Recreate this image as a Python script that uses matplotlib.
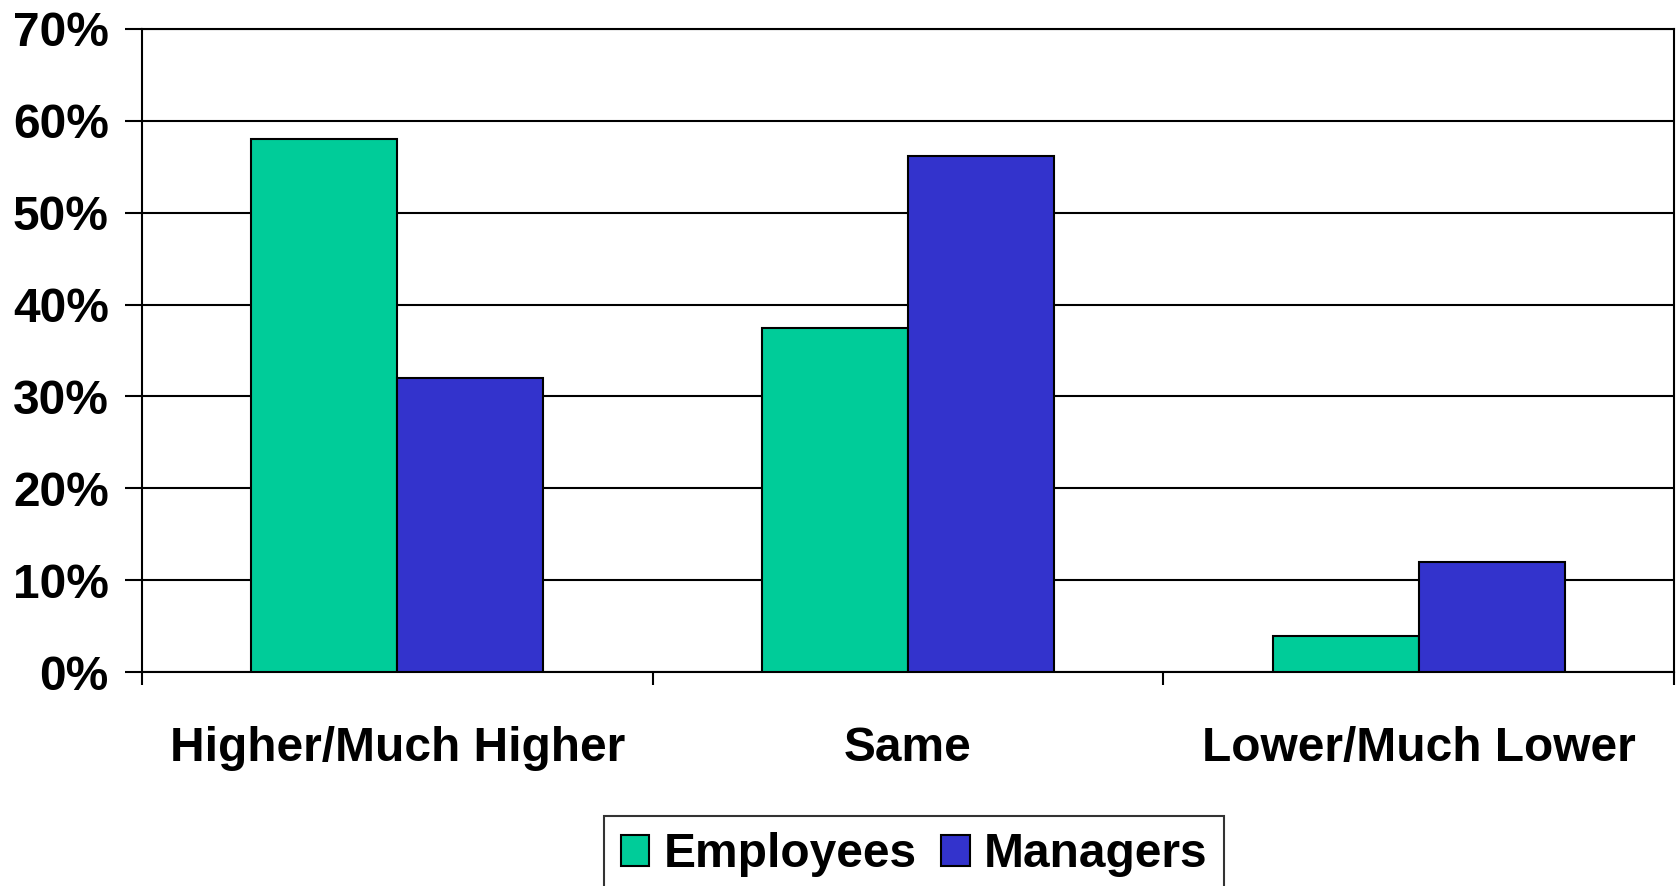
#Grouped bar chart: Employees vs Managers
import matplotlib.pyplot as plt
import numpy as np

plt.rcParams['font.family'] = ['Liberation Sans', 'DejaVu Sans']
plt.rcParams['font.weight'] = 'bold'

#Data
categories = ['Higher/Much Higher', 'Same', 'Lower/Much Lower']
employees = [58.0, 37.4, 3.9]
managers = [32.0, 56.2, 12.0]
series_names = ['Employees', 'Managers']
yticks = [0, 10, 20, 30, 40, 50, 60, 70]

green = '#00CC99'
blue = '#3333CC'
fsize = 34.5

fig = plt.figure(figsize=(16.79, 8.86), dpi=100)
ax = fig.add_axes([0.0846, 0.2415, 0.9124, 0.7258])

x = np.arange(len(categories))
w = 0.286
ax.bar(x - w/2, employees, w, color=green, edgecolor='black', linewidth=1.5,
       label=series_names[0], zorder=3)
ax.bar(x + w/2, managers, w, color=blue, edgecolor='black', linewidth=1.5,
       label=series_names[1], zorder=3)

ax.set_xlim(-0.5, len(categories) - 0.5)
ax.set_ylim(0, 70)

#y axis with percent labels and black gridlines
ax.set_yticks(yticks)
ax.set_yticklabels([str(v) + '%' for v in yticks], fontsize=fsize, fontweight='bold')
ax.yaxis.grid(True, color='black', linewidth=1.5, zorder=0)
ax.tick_params(axis='y', direction='out', length=12, width=1.5, pad=12)

#x axis: ticks on category boundaries, labels at the centres
ax.set_xticks(np.arange(-0.5, len(categories), 1.0))
ax.set_xticklabels([])
ax.set_xticks(x, minor=True)
ax.set_xticklabels(categories, minor=True, fontsize=fsize, fontweight='bold')
ax.tick_params(axis='x', which='major', direction='out', length=9.5, width=1.5)
ax.tick_params(axis='x', which='minor', length=0, pad=39)

for s in ax.spines.values():
    s.set_linewidth(1.5)
    s.set_color('black')

leg = fig.legend(loc='upper center', bbox_to_anchor=(0.5444, 0.0795),
                 ncol=2, prop={'weight': 'bold', 'size': fsize},
                 frameon=True, fancybox=False, edgecolor='black',
                 handlelength=0.6, handleheight=0.6, handletextpad=0.3,
                 columnspacing=0.5, borderpad=0.35, borderaxespad=0)
leg.get_frame().set_linewidth(1.5)

fig.savefig('out.png', dpi=100)
